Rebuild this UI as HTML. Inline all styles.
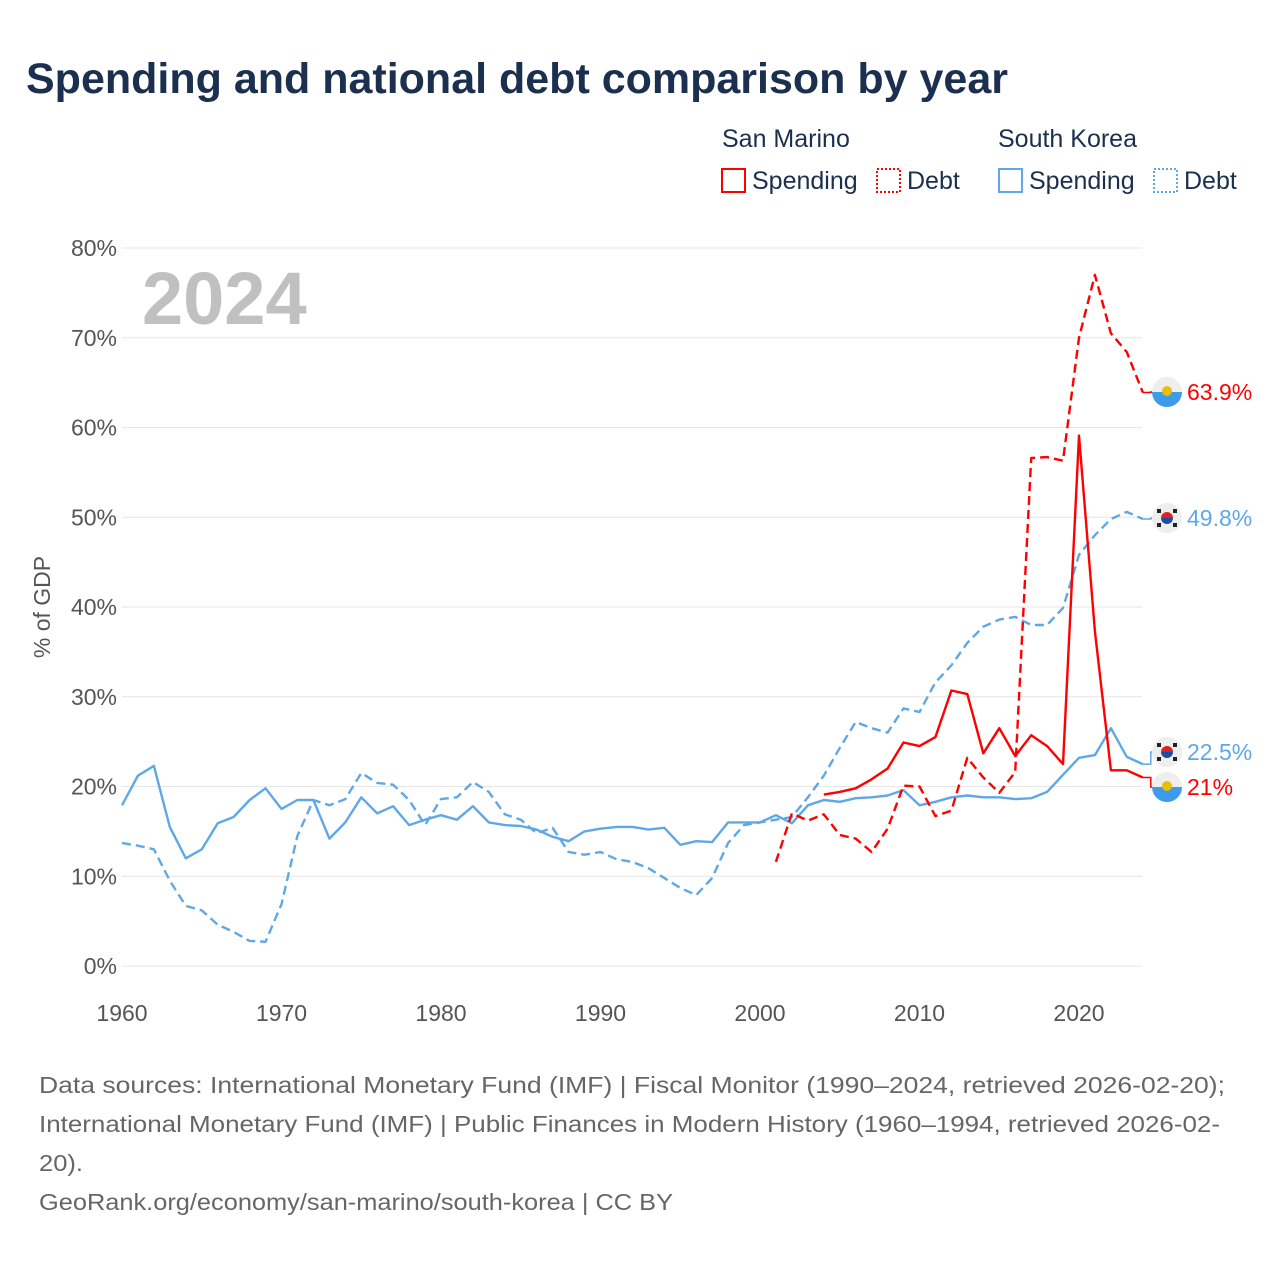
<!DOCTYPE html>
<html><head><meta charset="utf-8"><style>
body{margin:0;background:#fff;width:1280px;height:1280px;overflow:hidden;font-family:"Liberation Sans",sans-serif}
</style></head><body>
<svg id="chart" width="1280" height="1280" xmlns="http://www.w3.org/2000/svg">
<text x="26" y="93" font-size="43" font-weight="bold" fill="#1b2f4e">Spending and national debt comparison by year</text>
<g font-size="25" fill="#1b2f4e">
<text x="722" y="147">San Marino</text>
<text x="998" y="147">South Korea</text>
<g><rect x="722" y="169" width="23" height="23" fill="none" stroke="#f00" stroke-width="2"/><text x="752" y="189">Spending</text></g>
<g><rect x="877" y="169" width="23" height="23" fill="none" stroke="#f00" stroke-width="2" stroke-dasharray="2,2"/><text x="907" y="189">Debt</text></g>
<g><rect x="999" y="169" width="23" height="23" fill="none" stroke="#5fa8e8" stroke-width="2"/><text x="1029" y="189">Spending</text></g>
<g><rect x="1154" y="169" width="23" height="23" fill="none" stroke="#5fa8e8" stroke-width="2" stroke-dasharray="2,2"/><text x="1184" y="189">Debt</text></g>
</g>
<g id="grid"></g>
<g id="yticks" font-size="23" fill="#555" text-anchor="end"></g>
<g id="xticks" font-size="23" fill="#555" text-anchor="middle"></g>
<text transform="translate(50,607) rotate(-90)" font-size="23" fill="#555" text-anchor="middle">% of GDP</text>
<text x="142" y="324" font-size="74" font-weight="bold" fill="#c0c0c0">2024</text>
<g id="series"></g>
<g id="labels"></g>
<g font-size="23" fill="#666">
<text x="39" y="1093" textLength="1186" lengthAdjust="spacingAndGlyphs">Data sources: International Monetary Fund (IMF) | Fiscal Monitor (1990–2024, retrieved 2026-02-20);</text>
<text x="39" y="1132" textLength="1181" lengthAdjust="spacingAndGlyphs">International Monetary Fund (IMF) | Public Finances in Modern History (1960–1994, retrieved 2026-02-</text>
<text x="39" y="1171" textLength="44" lengthAdjust="spacingAndGlyphs">20).</text>
<text x="39" y="1210" textLength="634" lengthAdjust="spacingAndGlyphs">GeoRank.org/economy/san-marino/south-korea | CC BY</text>
</g>
</svg>
<script>
const yTicks=[0,10,20,30,40,50,60,70,80];
const xTicks=[1960,1970,1980,1990,2000,2010,2020];
const skSpending=[17.9,21.2,22.3,15.5,12.0,13.0,15.9,16.6,18.5,19.8,17.5,18.5,18.5,14.2,16.0,18.8,17.0,17.8,15.7,16.3,16.8,16.3,17.8,16.0,15.7,15.6,15.2,14.4,13.9,15.0,15.3,15.5,15.5,15.2,15.4,13.5,13.9,13.8,16.0,16.0,16.0,16.8,15.9,17.9,18.5,18.3,18.7,18.8,19.0,19.6,17.9,18.3,18.8,19.0,18.8,18.8,18.6,18.7,19.4,21.3,23.2,23.5,26.5,23.3,22.5];
const skDebt=[13.7,13.4,13.0,9.5,6.7,6.2,4.6,3.8,2.8,2.7,6.9,14.5,18.5,17.9,18.6,21.5,20.4,20.2,18.5,15.7,18.6,18.8,20.5,19.4,16.9,16.3,14.8,15.4,12.7,12.4,12.7,11.9,11.6,10.9,9.8,8.7,7.9,9.8,13.7,15.7,16.0,16.3,16.6,18.8,21.2,24.3,27.2,26.5,26.0,28.7,28.3,31.6,33.5,36.0,37.8,38.6,38.9,38.0,38.0,39.9,45.8,48.0,49.8,50.6,49.8];
const smSpendingStart=2004;
const smSpending=[19.1,19.4,19.8,20.8,22.0,24.9,24.5,25.5,30.7,30.3,23.7,26.5,23.4,25.7,24.5,22.5,59.1,37.3,21.8,21.8,21.0];
const smDebtStart=2001;
const smDebt=[11.6,17.0,16.2,16.9,14.6,14.2,12.7,15.3,20.1,20.0,16.7,17.3,23.2,21.0,19.3,21.6,56.6,56.7,56.3,70.0,77.0,70.5,68.4,63.9];
const NS="http://www.w3.org/2000/svg";
const X=y=>122+(y-1960)*15.95;
const Y=v=>966-v*8.975;
function mk(tag,attrs,parent){const e=document.createElementNS(NS,tag);for(const k in attrs)e.setAttribute(k,attrs[k]);parent.appendChild(e);return e;}
const grid=document.getElementById('grid'),yt=document.getElementById('yticks'),xt=document.getElementById('xticks');
yTicks.forEach(v=>{
 const l=mk('line',{x1:122,x2:1142,y1:Y(v),y2:Y(v),stroke:'#e6e6e6','stroke-width':1},grid);
 
 
 const t=mk('text',{x:117,y:Y(v)+8},yt);t.textContent=v+'%';
 
 
});
xTicks.forEach(y=>{
 const t=mk('text',{x:X(y),y:1021},xt);t.textContent=y;
 
 
});
const S=document.getElementById('series');
function line(start,vals,color,dash,name){
 const pts=vals.map((v,i)=>X(start+i).toFixed(1)+','+Y(v).toFixed(1)).join(' ');
 const p=mk('polyline',{points:pts,fill:'none',stroke:color,'stroke-width':2.4,'stroke-linejoin':'round'},S);
 if(dash)p.setAttribute('stroke-dasharray','9,5');
 
 
}
line(1960,skDebt,'#5fa8e8',true,'south-korea-debt-line');
line(1960,skSpending,'#5fa8e8',false,'south-korea-spending-line');
line(smDebtStart,smDebt,'#f00',true,'san-marino-debt-line');
line(smSpendingStart,smSpending,'#f00',false,'san-marino-spending-line');
const L=document.getElementById('labels');
function endLabel(v,ly,color,flag,text,name){
 const x0=X(2024);
 const c=mk('polyline',{points:`${x0},${Y(v)} ${x0+8},${Y(v)} ${x0+8},${ly} ${x0+12},${ly}`,fill:'none',stroke:color,'stroke-width':1.5},L);
 
 
 const g=mk('g',{},L);
 
 
 const cx=1167;
 if(flag==='sm'){
  mk('circle',{cx:cx,cy:ly,r:15,fill:'#eee'},g);
  mk('path',{d:`M${cx-15},${ly} A15,15 0 0 0 ${cx+15},${ly} Z`,fill:'#3d9be9'},g);
  mk('circle',{cx:cx,cy:ly-1,r:5,fill:'#e8c000'},g);
 }else{
  mk('circle',{cx:cx,cy:ly,r:15,fill:'#eee'},g);
  mk('path',{d:`M${cx-6},${ly} A6,6 0 0 1 ${cx+6},${ly} Z`,fill:'#d22'},g);
  mk('path',{d:`M${cx-6},${ly} A6,6 0 0 0 ${cx+6},${ly} Z`,fill:'#1a4ea0'},g);
  [[-8,-7],[8,-7],[-8,7],[8,7]].forEach(d=>mk('rect',{x:cx+d[0]-2,y:ly+d[1]-2,width:4,height:4,fill:'#222'},g));
 }
 const t=mk('text',{x:1187,y:ly+8,fill:color,'font-size':23},L);t.textContent=text;
 
 
}
endLabel(smDebt[smDebt.length-1],392,'#f00','sm','63.9%','san-marino-debt-label');
endLabel(skDebt[skDebt.length-1],518,'#5fa8e8','sk','49.8%','south-korea-debt-label');
endLabel(skSpending[skSpending.length-1],752,'#5fa8e8','sk','22.5%','south-korea-spending-label');
endLabel(smSpending[smSpending.length-1],787,'#f00','sm','21%','san-marino-spending-label');
</script>
</body></html>
